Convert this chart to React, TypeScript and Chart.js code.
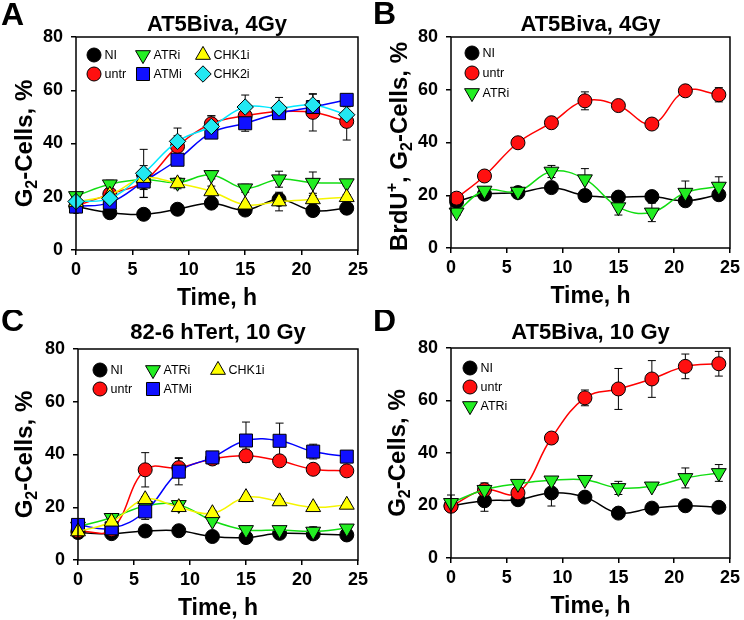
import React, { useEffect, useRef } from 'react';
import { Chart, registerables } from 'chart.js';

Chart.register(...registerables);

const FONT = '"Liberation Sans", Arial, Helvetica, sans-serif';

// ---------- data ----------
const timesA = [0, 3, 6, 9, 12, 15, 18, 21, 24];
const timesB = [0.5, 3, 6, 9, 12, 15, 18, 21, 24];
const timesC = [0, 3, 6, 9, 12, 15, 18, 21, 24];
const timesD = [0, 3, 6, 9, 12, 15, 18, 21, 24];

const xTickValues = [0, 5, 10, 15, 20, 25];
const yTickValues = [0, 20, 40, 60, 80];

// Panel A: AT5Biva, 4Gy
const A_NI = [16.3, 14.0, 13.4, 15.3, 17.6, 15.0, 19.0, 14.8, 15.7];
const A_NI_err = [1, 1, 1, 1, 2, 1, 2, 1, 1];
const A_untr = [16.5, 21.0, 25.7, 38.9, 47.4, 50.4, 52.0, 51.7, 48.3];
const A_untr_err = [1, 2, 6, 4, 3, 3, 2, 7, 7];
const A_ATRi = [20.3, 24.7, 26.5, 25.3, 28.2, 23.2, 26.6, 25.3, 25.1];
const A_ATRi_err = [1, 1.5, 2, 1.5, 1.5, 1.5, 3, 4, 1];
const A_CHK1i = [18.0, 20.7, 27.0, 25.0, 22.0, 17.0, 18.2, 19.0, 19.8];
const A_CHK1i_err = [1, 1, 3, 2, 2, 1, 3.5, 1.5, 1];
const A_ATMi = [16.3, 17.8, 25.7, 33.9, 44.1, 47.6, 51.4, 53.7, 56.4];
const A_ATMi_err = [1, 1, 3, 2, 2, 3, 2, 2, 1.5];
const A_CHK2i = [18.2, 19.4, 28.8, 40.8, 46.4, 53.7, 53.3, 54.5, 50.8];
const A_CHK2i_err = [1, 1, 9, 5, 4, 4.5, 4, 4, 3];

// Panel B: AT5Biva, 4Gy (BrdU+)
const B_NI = [17.6, 20.4, 21.0, 22.9, 19.9, 19.3, 19.5, 17.9, 20.2];
const B_NI_err = [1, 1, 1, 1, 1, 1, 1, 1, 1];
const B_untr = [18.9, 27.3, 39.9, 47.5, 55.8, 54.0, 47.0, 59.6, 58.1];
const B_untr_err = [1, 1, 1, 1, 3.4, 1, 1, 1, 2.7];
const B_ATRi = [13.5, 21.8, 21.4, 29.0, 26.1, 15.5, 13.5, 21.0, 23.3];
const B_ATRi_err = [1, 1, 1, 2.3, 4, 3, 3.5, 4.4, 3.7];

// Panel C: 82-6 hTert, 10 Gy
const C_NI = [10.4, 10.0, 11.0, 11.1, 8.9, 8.5, 10.1, 9.9, 9.5];
const C_NI_err = [1, 1, 1, 1, 1, 1, 1, 1, 1];
const C_untr = [11.0, 11.5, 34.2, 35.0, 38.3, 39.5, 37.6, 34.4, 33.8];
const C_untr_err = [1, 1, 6.5, 3.8, 1, 2.5, 1.5, 1, 1];
const C_ATRi = [12.7, 16.0, 20.5, 20.9, 14.9, 11.4, 11.4, 10.8, 12.0];
const C_ATRi_err = [1, 1.5, 1, 1, 1, 1, 1, 1.8, 1];
const C_CHK1i = [10.8, 14.5, 23.0, 20.0, 17.7, 23.8, 22.2, 20.0, 20.9];
const C_CHK1i_err = [1, 1, 1, 1, 1, 1, 1, 1, 1];
const C_ATMi = [13.3, 12.0, 18.4, 33.5, 38.9, 45.3, 45.2, 41.1, 39.2];
const C_ATMi_err = [1, 1, 3, 5, 1, 7, 6.7, 2.8, 1];

// Panel D: AT5Biva, 10 Gy
const D_NI = [19.9, 21.8, 22.2, 24.8, 23.2, 17.1, 19.0, 19.9, 19.3];
const D_NI_err = [1, 4, 1, 5, 1, 1, 1, 1, 1];
const D_untr = [19.7, 26.0, 24.8, 45.7, 61.0, 64.4, 68.2, 73.0, 74.0];
const D_untr_err = [1, 1, 1, 1, 3, 7.8, 7, 4.7, 4.7];
const D_ATRi = [21.0, 26.0, 28.3, 29.6, 29.8, 26.7, 27.3, 30.5, 32.4];
const D_ATRi_err = [3, 2.6, 1, 1, 1, 2.5, 1, 3.8, 3.2];

// ---------- styles ----------
type Shape = 'circle' | 'triangle' | 'triangleDown' | 'rect' | 'rectRot';
const STYLES: Record<string, { fill: string; line: string; shape: Shape; r: number; order: number }> = {
  NI: { fill: '#000000', line: '#000000', shape: 'circle', r: 7, order: 6 },
  untr: { fill: '#ff1010', line: '#ff0000', shape: 'circle', r: 7, order: 5 },
  ATRi: { fill: '#22ee22', line: '#11dd11', shape: 'triangleDown', r: 8.6, order: 4 },
  ATMi: { fill: '#1010ff', line: '#0000ff', shape: 'rect', r: 9.2, order: 3 },
  CHK1i: { fill: '#ffff00', line: '#f5f500', shape: 'triangle', r: 8.6, order: 2 },
  CHK2i: { fill: '#22e8f2', line: '#00e8ff', shape: 'rectRot', r: 8.2, order: 1 },
};

type Seg = { text: string; kind: 'n' | 'sub' | 'sup' };
interface Series { name: string; values: number[]; errs: number[] }
interface PanelCfg {
  letter: string;
  left: number;
  top: number;
  area: { l: number; r: number; t: number; b: number };
  letterY: number;
  titleY: number;
  title: string;
  yTitle: Seg[];
  yTitleX: number;
  yTitleShift: number;
  times: number[];
  series: Series[];
  legend: { name: string; x: number; y: number }[];
}

const G2: Seg[] = [
  { text: 'G', kind: 'n' },
  { text: '2', kind: 'sub' },
  { text: '-Cells, %', kind: 'n' },
];
const BRDU: Seg[] = [
  { text: 'BrdU', kind: 'n' },
  { text: '+', kind: 'sup' },
  { text: ', G', kind: 'n' },
  { text: '2', kind: 'sub' },
  { text: '-Cells, %', kind: 'n' },
];

const PANELS: PanelCfg[] = [
  {
    letter: 'A', left: 0, top: 0, area: { l: 76, r: 359, t: 37, b: 250 }, letterY: 25, titleY: 30.5,
    title: 'AT5Biva, 4Gy', yTitle: G2, yTitleX: 32, yTitleShift: 0, times: timesA,
    series: [
      { name: 'NI', values: A_NI, errs: A_NI_err },
      { name: 'untr', values: A_untr, errs: A_untr_err },
      { name: 'ATRi', values: A_ATRi, errs: A_ATRi_err },
      { name: 'ATMi', values: A_ATMi, errs: A_ATMi_err },
      { name: 'CHK1i', values: A_CHK1i, errs: A_CHK1i_err },
      { name: 'CHK2i', values: A_CHK2i, errs: A_CHK2i_err },
    ],
    legend: [
      { name: 'NI', x: 94, y: 55 }, { name: 'untr', x: 94, y: 74 },
      { name: 'ATRi', x: 143, y: 55 }, { name: 'ATMi', x: 143, y: 74 },
      { name: 'CHK1i', x: 203, y: 55 }, { name: 'CHK2i', x: 203, y: 74 },
    ],
  },
  {
    letter: 'B', left: 372, top: 0, area: { l: 79, r: 360, t: 37, b: 248 }, letterY: 24, titleY: 30.5,
    title: 'AT5Biva, 4Gy', yTitle: BRDU, yTitleX: 35, yTitleShift: 4, times: timesB,
    series: [
      { name: 'NI', values: B_NI, errs: B_NI_err },
      { name: 'untr', values: B_untr, errs: B_untr_err },
      { name: 'ATRi', values: B_ATRi, errs: B_ATRi_err },
    ],
    legend: [
      { name: 'NI', x: 100, y: 53 }, { name: 'untr', x: 100, y: 73 }, { name: 'ATRi', x: 100, y: 93 },
    ],
  },
  {
    letter: 'C', left: 0, top: 310, area: { l: 78, r: 361, t: 39, b: 250 }, letterY: 21, titleY: 28.5,
    title: '82-6 hTert, 10 Gy', yTitle: G2, yTitleX: 32, yTitleShift: 0, times: timesC,
    series: [
      { name: 'NI', values: C_NI, errs: C_NI_err },
      { name: 'untr', values: C_untr, errs: C_untr_err },
      { name: 'ATRi', values: C_ATRi, errs: C_ATRi_err },
      { name: 'ATMi', values: C_ATMi, errs: C_ATMi_err },
      { name: 'CHK1i', values: C_CHK1i, errs: C_CHK1i_err },
    ],
    legend: [
      { name: 'NI', x: 100, y: 60 }, { name: 'untr', x: 100, y: 79 },
      { name: 'ATRi', x: 153, y: 60 }, { name: 'ATMi', x: 153, y: 79 },
      { name: 'CHK1i', x: 218, y: 60 },
    ],
  },
  {
    letter: 'D', left: 372, top: 310, area: { l: 79, r: 361, t: 38, b: 248 }, letterY: 21, titleY: 28.5,
    title: 'AT5Biva, 10 Gy', yTitle: G2, yTitleX: 33, yTitleShift: 0, times: timesD,
    series: [
      { name: 'NI', values: D_NI, errs: D_NI_err },
      { name: 'untr', values: D_untr, errs: D_untr_err },
      { name: 'ATRi', values: D_ATRi, errs: D_ATRi_err },
    ],
    legend: [
      { name: 'NI', x: 98, y: 58 }, { name: 'untr', x: 98, y: 77 }, { name: 'ATRi', x: 98, y: 96 },
    ],
  },
];

const W = 372;
const H = 310;

function drawMarker(ctx: CanvasRenderingContext2D, shape: Shape, x: number, y: number, r: number, fill: string) {
  ctx.save();
  ctx.beginPath();
  if (shape === 'circle') {
    ctx.arc(x, y, r, 0, Math.PI * 2);
  } else if (shape === 'triangle') {
    ctx.moveTo(x, y - r);
    ctx.lineTo(x + 0.866 * r, y + 0.5 * r);
    ctx.lineTo(x - 0.866 * r, y + 0.5 * r);
    ctx.closePath();
  } else if (shape === 'triangleDown') {
    ctx.moveTo(x, y + r);
    ctx.lineTo(x - 0.866 * r, y - 0.5 * r);
    ctx.lineTo(x + 0.866 * r, y - 0.5 * r);
    ctx.closePath();
  } else if (shape === 'rect') {
    const s = Math.SQRT1_2 * r;
    ctx.rect(x - s, y - s, 2 * s, 2 * s);
  } else {
    ctx.moveTo(x, y - r);
    ctx.lineTo(x + r, y);
    ctx.lineTo(x, y + r);
    ctx.lineTo(x - r, y);
    ctx.closePath();
  }
  ctx.fillStyle = fill;
  ctx.fill();
  ctx.lineWidth = 1;
  ctx.strokeStyle = '#000';
  ctx.stroke();
  ctx.restore();
}

function makePlugin(cfg: PanelCfg) {
  return {
    id: 'panelDecor' + cfg.letter,
    beforeDatasetsDraw(chart: any) {
      const ctx: CanvasRenderingContext2D = chart.ctx;
      const ys = chart.scales.y;
      ctx.save();
      ctx.strokeStyle = '#000';
      ctx.lineWidth = 1;
      cfg.series.forEach((s, i) => {
        const meta = chart.getDatasetMeta(i);
        s.values.forEach((v, j) => {
          const pt = meta.data[j];
          if (!pt) return;
          const e = s.errs[j];
          const y1 = ys.getPixelForValue(v + e);
          const y2 = ys.getPixelForValue(v - e);
          const x = pt.x;
          ctx.beginPath();
          ctx.moveTo(x, y1);
          ctx.lineTo(x, y2);
          ctx.moveTo(x - 4, y1);
          ctx.lineTo(x + 4, y1);
          ctx.moveTo(x - 4, y2);
          ctx.lineTo(x + 4, y2);
          ctx.stroke();
        });
      });
      ctx.restore();
    },
    afterDraw(chart: any) {
      const ctx: CanvasRenderingContext2D = chart.ctx;
      const a = chart.chartArea;
      ctx.save();
      // frame
      ctx.strokeStyle = '#000';
      ctx.lineWidth = 1.5;
      ctx.strokeRect(a.left, a.top, a.right - a.left, a.bottom - a.top);

      ctx.fillStyle = '#000';
      // letter
      ctx.font = `bold 32px ${FONT}`;
      ctx.textAlign = 'left';
      ctx.textBaseline = 'alphabetic';
      ctx.fillText(cfg.letter, 1, cfg.letterY);
      // title
      ctx.font = `bold 22px ${FONT}`;
      ctx.textAlign = 'center';
      ctx.fillText(cfg.title, (a.left + a.right) / 2, cfg.titleY);
      // x title
      ctx.font = `bold 23px ${FONT}`;
      ctx.fillText('Time, h', (a.left + a.right) / 2, a.bottom + 55);

      // y title with sub/sup
      const fs = 24;
      const small = 16;
      const widths = cfg.yTitle.map((sg) => {
        ctx.font = `bold ${sg.kind === 'n' ? fs : small}px ${FONT}`;
        return ctx.measureText(sg.text).width;
      });
      const total = widths.reduce((p, c) => p + c, 0);
      const cy = (a.top + a.bottom) / 2 + cfg.yTitleShift;
      ctx.translate(cfg.yTitleX, cy);
      ctx.rotate(-Math.PI / 2);
      ctx.textAlign = 'left';
      let px = -total / 2;
      cfg.yTitle.forEach((sg, i) => {
        ctx.font = `bold ${sg.kind === 'n' ? fs : small}px ${FONT}`;
        const dy = sg.kind === 'sub' ? 5 : sg.kind === 'sup' ? -10 : 0;
        ctx.fillText(sg.text, px, dy);
        px += widths[i];
      });
      ctx.setTransform(1, 0, 0, 1, 0, 0);

      // legend
      ctx.font = `12.5px ${FONT}`;
      ctx.textAlign = 'left';
      ctx.textBaseline = 'middle';
      cfg.legend.forEach((lg) => {
        const st = STYLES[lg.name];
        drawMarker(ctx, st.shape, lg.x, lg.y, st.r, st.fill);
        ctx.fillStyle = '#000';
        ctx.fillText(lg.name, lg.x + 10.5, lg.y + 0.5);
      });
      ctx.restore();
    },
  };
}

function Panel({ cfg }: { cfg: PanelCfg }) {
  const ref = useRef<HTMLCanvasElement | null>(null);
  useEffect(() => {
    if (!ref.current) return;
    const datasets = cfg.series.map((s) => {
      const st = STYLES[s.name];
      return {
        label: s.name,
        data: s.values.map((v, i) => ({ x: cfg.times[i], y: v })),
        borderColor: st.line,
        borderWidth: 1.5,
        backgroundColor: st.fill,
        pointBackgroundColor: st.fill,
        pointBorderColor: '#000',
        pointBorderWidth: 1,
        pointRadius: st.r,
        pointHoverRadius: st.r,
        pointStyle: st.shape === 'triangleDown' ? 'triangle' : st.shape,
        pointRotation: st.shape === 'triangleDown' ? 180 : 0,
        tension: 0.4,
        fill: false,
        clip: false as any,
        order: st.order,
      };
    });
    const a = cfg.area;
    const tickFont = { family: FONT, size: 18, weight: 'bold' as const };
    const chart = new Chart(ref.current, {
      type: 'line',
      data: { datasets: datasets as any },
      plugins: [makePlugin(cfg)],
      options: {
        responsive: false,
        animation: false,
        devicePixelRatio: 1,
        events: [],
        layout: { padding: { left: 0, top: a.t, right: W - a.r, bottom: 0 } },
        plugins: { legend: { display: false }, tooltip: { enabled: false }, title: { display: false } },
        scales: {
          x: {
            type: 'linear',
            min: 0,
            max: 25,
            afterBuildTicks: (s: any) => {
              s.ticks = xTickValues.map((v) => ({ value: v }));
            },
            afterFit: (s: any) => {
              s.height = H - a.b;
            },
            ticks: { font: tickFont, color: '#000', padding: 4, maxRotation: 0 },
            grid: { display: true, drawOnChartArea: false, drawTicks: true, tickLength: 5, color: '#000', lineWidth: 1.5 },
            border: { display: false },
          },
          y: {
            type: 'linear',
            min: 0,
            max: 80,
            afterBuildTicks: (s: any) => {
              s.ticks = yTickValues.map((v) => ({ value: v }));
            },
            afterFit: (s: any) => {
              s.width = a.l;
            },
            ticks: { font: tickFont, color: '#000', padding: 8 },
            grid: { display: true, drawOnChartArea: false, drawTicks: true, tickLength: 5, color: '#000', lineWidth: 1.5 },
            border: { display: false },
          },
        },
      } as any,
    });
    return () => chart.destroy();
  }, [cfg]);
  return (
    <div style={{ position: 'absolute', left: cfg.left, top: cfg.top, width: W, height: H }}>
      <canvas ref={ref} width={W} height={H} style={{ width: W, height: H, display: 'block' }} />
    </div>
  );
}

export default function App() {
  return (
    <div style={{ position: 'absolute', left: 0, top: 0, width: 744, height: 620, background: '#fff', overflow: 'hidden' }}>
      {PANELS.map((p) => (
        <Panel key={p.letter} cfg={p} />
      ))}
    </div>
  );
}
